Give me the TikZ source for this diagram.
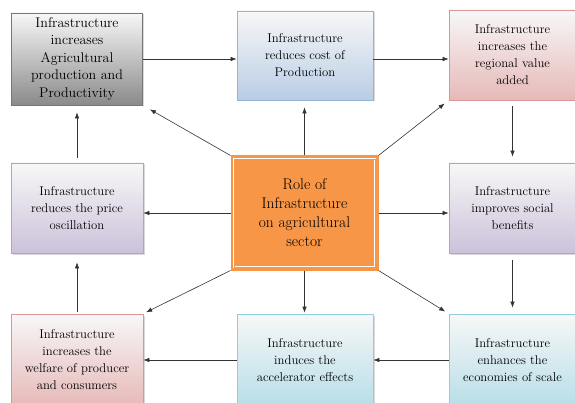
\documentclass[tikz,border=0pt]{standalone}
\usetikzlibrary{arrows.meta, shadows}

\definecolor{roleorange}{HTML}{F79646}
\definecolor{graybot}{HTML}{8A8A8A}
\definecolor{grayline}{HTML}{777777}
\definecolor{bluebot}{HTML}{B9CDE5}
\definecolor{blueline}{HTML}{95B3D7}
\definecolor{redbot}{HTML}{E6B9B8}
\definecolor{redline}{HTML}{D99694}
\definecolor{purplebot}{HTML}{CCC1DA}
\definecolor{purpleline}{HTML}{B3A2C7}
\definecolor{tealbot}{HTML}{B7DEE8}
\definecolor{tealline}{HTML}{93CDDD}

\begin{document}
\begin{tikzpicture}[x = 1pt, y = -1pt, align = center,
        box/.style = {draw, line width = 0.8pt, inner sep = 2pt, text = black,
            font = \fontsize{12.7}{17}\selectfont, top color = white!97!black,
            drop shadow = {opacity = 0.3, shadow xshift = 1.5pt, shadow yshift = -1.5pt}},
        graybox/.style = {box, draw = grayline, bottom color = graybot,
            font = \fontsize{14}{17.5}\selectfont},
        bluebox/.style = {box, draw = blueline, bottom color = bluebot},
        redbox/.style = {box, draw = redline, bottom color = redbot},
        purplebox/.style = {box, draw = purpleline, bottom color = purplebot},
        tealbox/.style = {box, draw = tealline, bottom color = tealbot},
        arr/.style = {-{Latex[length = 6pt, width = 4.5pt]}, line width = 0.6pt, draw = black!80}]
        \useasboundingbox (0, 0) rectangle (575, 403);

        % centre and the eight boxes round it
        \node[fill = roleorange, draw = roleorange, line width = 1pt, minimum width = 147pt,
            minimum height = 114pt, text = black, font = \fontsize{15.5}{19}\selectfont]
            (0) at (304.5, 213) {Role of\\Infrastructure\\on agricultural\\sector};
        \draw[white, line width = 0.7pt, double = roleorange, double distance = 0.8pt]
            ([xshift = 3.5pt, yshift = -3.5pt]0.north west) rectangle ([xshift = -3.5pt, yshift = 3.5pt]0.south east);

        \node[graybox, minimum width = 131pt, minimum height = 92pt] (1) at (77, 59)
            {Infrastructure\\increases\\Agricultural\\production and\\Productivity};
        \node[bluebox, minimum width = 136pt, minimum height = 89pt] (2) at (305, 55.5)
            {Infrastructure\\reduces cost of\\Production};
        \node[redbox, minimum width = 127pt, minimum height = 90pt] (3) at (512.5, 55)
            {Infrastructure\\increases the\\regional value\\added};
        \node[purplebox, minimum width = 132pt, minimum height = 90pt] (4) at (77, 208)
            {Infrastructure\\reduces the price\\oscillation};
        \node[purplebox, minimum width = 127pt, minimum height = 90pt] (5) at (512.5, 208)
            {Infrastructure\\improves social\\benefits};
        \node[redbox, minimum width = 132pt, minimum height = 92pt] (6) at (77, 360)
            {Infrastructure\\increases the\\welfare of producer\\and consumers};
        \node[tealbox, minimum width = 136pt, minimum height = 92pt] (7) at (305, 360)
            {Infrastructure\\induces the\\accelerator effects};
        \node[tealbox, minimum width = 127pt, minimum height = 92pt] (8) at (512.5, 360)
            {Infrastructure\\enhances the\\economies of scale};

        % the outer ring
        \draw[arr] (1) -- (1 -| 2.west);
        \draw[arr] (2.east |- 1) -- (3.west |- 1);
        \draw[arr, shorten <= 6pt, shorten >= 6pt] (3) -- (5);
        \draw[arr, shorten <= 7pt, shorten >= 6pt] (5) -- (8);
        \draw[arr] (8) -- (7);
        \draw[arr] (7) -- (6);
        \draw[arr, shorten <= 2pt, shorten >= 9pt] (6) -- (4);
        \draw[arr, shorten <= 5pt, shorten >= 7pt] (4) -- (1);

        % out of the centre
        \draw[arr, shorten >= 8pt] (0.north west) -- (1.south east);
        \draw[arr, shorten >= 7pt] (0.north) -- (0.north |- 2.south);
        \draw[arr, shorten >= 5pt] (0.north east) -- (3.south west);
        \draw[arr] (0.west) -- (0.west -| 4.east);
        \draw[arr] (0.east) -- (0.east -| 5.west);
        \draw[arr, shorten >= 3pt] (0.south west) -- (6.north east);
        \draw[arr, shorten >= 1pt] (0.south) -- (0.south |- 7.north);
        \draw[arr, shorten >= 4pt] (0.south east) -- (8.north west);
    \end{tikzpicture}
\end{document}
